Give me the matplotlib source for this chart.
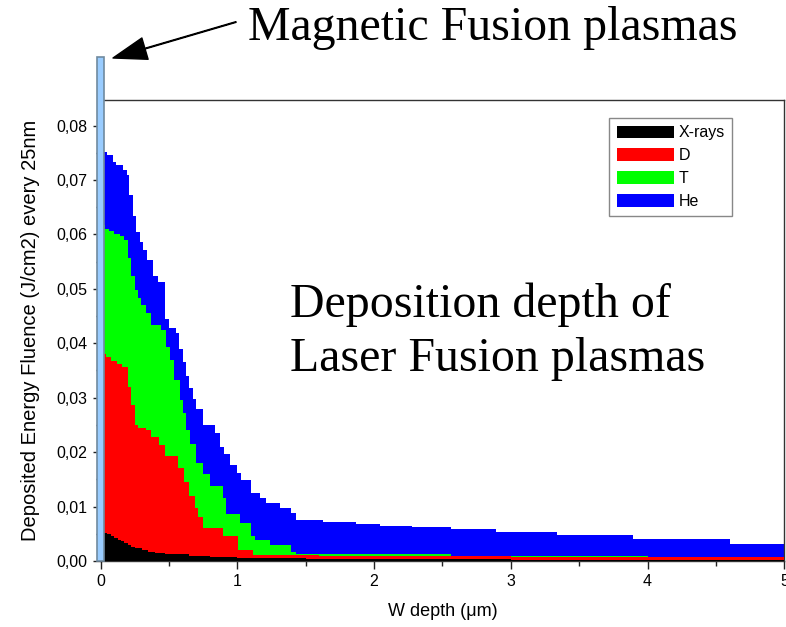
import matplotlib
matplotlib.use("Agg")
import matplotlib.pyplot as plt
from matplotlib.ticker import MultipleLocator

# stacked (cumulative) tops of each layer
# W depth in um, fluence in J/cm2 per 25 nm
he_edges = [0.000, 0.050, 0.090, 0.115, 0.165, 0.190, 0.210, 0.240, 0.260, 0.285,
            0.310, 0.340, 0.385, 0.420, 0.475, 0.500, 0.550, 0.575, 0.600, 0.625,
            0.650, 0.675, 0.700, 0.750, 0.840, 0.870, 0.900, 0.945, 0.995, 1.030,
            1.100, 1.165, 1.210, 1.310, 1.395, 1.430, 1.625, 1.870, 2.040, 2.280,
            2.560, 2.890, 3.340, 3.890, 4.600, 5.000]
he_top = [0.0752, 0.0746, 0.0734, 0.0728, 0.0719, 0.0710, 0.0673, 0.0633, 0.0605,
          0.0587, 0.0572, 0.0553, 0.0523, 0.0513, 0.0445, 0.0428, 0.0418, 0.0390,
          0.0366, 0.0340, 0.0318, 0.0298, 0.0280, 0.0250, 0.0235, 0.0210, 0.0197,
          0.0176, 0.0162, 0.0149, 0.0125, 0.0116, 0.0107, 0.0097, 0.0088, 0.0075,
          0.0071, 0.0068, 0.0065, 0.0063, 0.0059, 0.0053, 0.0048, 0.0040, 0.0031]

t_edges = [0.000, 0.030, 0.060, 0.100, 0.140, 0.170, 0.200, 0.225, 0.250, 0.274,
           0.298, 0.334, 0.371, 0.444, 0.480, 0.505, 0.540, 0.578, 0.602, 0.626,
           0.651, 0.700, 0.750, 0.800, 0.895, 0.920, 1.020, 1.100, 1.130, 1.240,
           1.395, 1.430, 1.625, 2.560, 4.000, 5.000]
t_top = [0.0618, 0.0610, 0.0606, 0.0601, 0.0597, 0.0590, 0.0557, 0.0523, 0.0498,
         0.0483, 0.0470, 0.0456, 0.0434, 0.0425, 0.0394, 0.0370, 0.0333, 0.0296,
         0.0272, 0.0241, 0.0215, 0.0180, 0.0160, 0.0137, 0.0115, 0.0087, 0.0070,
         0.0045, 0.0039, 0.0030, 0.0017, 0.0013, 0.0012, 0.0010, 0.0008]

d_edges = [0.000, 0.040, 0.080, 0.120, 0.160, 0.200, 0.225, 0.250, 0.275, 0.330,
           0.370, 0.430, 0.470, 0.565, 0.610, 0.650, 0.690, 0.710, 0.750, 0.895,
           1.005, 1.115, 1.600, 3.000, 4.000, 5.000]
d_top = [0.0380, 0.0375, 0.0368, 0.0362, 0.0356, 0.0320, 0.0287, 0.0250, 0.0245,
         0.0240, 0.0228, 0.0213, 0.0192, 0.0170, 0.0145, 0.0120, 0.0098, 0.0081,
         0.0060, 0.0045, 0.0020, 0.0011, 0.0009, 0.0008, 0.0007]

x_edges = [0.000, 0.025, 0.050, 0.075, 0.100, 0.125, 0.150, 0.175, 0.200, 0.225,
           0.250, 0.300, 0.350, 0.400, 0.470, 0.550, 0.650, 0.800, 1.000, 1.200,
           1.500, 2.000, 3.000, 5.000]
x_top = [0.0055, 0.0052, 0.0049, 0.0046, 0.0042, 0.0039, 0.0036, 0.0033, 0.0029,
         0.0026, 0.0024, 0.0021, 0.0017, 0.0015, 0.0013, 0.0012, 0.0010, 0.0008,
         0.0006, 0.0005, 0.0004, 0.0003, 0.0002]

mfe_height = 0.0926  # magnetic fusion bar

y_ticks = [0.00, 0.01, 0.02, 0.03, 0.04, 0.05, 0.06, 0.07, 0.08]
y_labels = ['0,00', '0,01', '0,02', '0,03', '0,04', '0,05', '0,06', '0,07', '0,08']
x_ticks = [0, 1, 2, 3, 4, 5]
x_labels = ['0', '1', '2', '3', '4', '5']

plt.rcParams['font.family'] = ['Liberation Sans', 'DejaVu Sans']

fig = plt.figure(figsize=(7.86, 6.27), dpi=100)
ax = fig.add_axes([0.1279, 0.1053, 0.8700, 0.7352])

# paint from the top layer down so each covers the one above it
h_he = ax.stairs(he_top, he_edges, fill=True, color='#0000ff', label='He', zorder=2)
h_t = ax.stairs(t_top, t_edges, fill=True, color='#00ff00', label='T', zorder=3)
h_d = ax.stairs(d_top, d_edges, fill=True, color='#ff0000', label='D', zorder=4)
h_x = ax.stairs(x_top, x_edges, fill=True, color='#000000', label='X-rays', zorder=5)

ax.bar([0.0], [mfe_height], width=0.055, color='#99ccff', edgecolor='#6f8aa0',
       linewidth=1.2, clip_on=False, zorder=10)

ax.set_xlim(0, 5)
ax.set_ylim(0, 0.0847)
ax.set_xticks(x_ticks)
ax.set_xticklabels(x_labels)
ax.set_yticks(y_ticks)
ax.set_yticklabels(y_labels)
ax.xaxis.set_minor_locator(MultipleLocator(0.5))
ax.yaxis.set_minor_locator(MultipleLocator(0.005))
ax.tick_params(which='both', direction='out', top=False, right=False,
               labelsize=11.5, width=1, color='#222222')
ax.tick_params(which='major', length=6)
ax.tick_params(which='minor', length=3.5)
for s in ax.spines.values():
    s.set_color('#333333')
    s.set_linewidth(1)

ax.set_xlabel('W depth (\u03bcm)', fontsize=13, labelpad=10)
ax.set_ylabel('Deposited Energy Fluence (J/cm2) every 25nm', fontsize=14.5, labelpad=12)

leg = ax.legend(handles=[h_x, h_d, h_t, h_he], loc='upper right',
                bbox_to_anchor=(0.924, 0.961), borderaxespad=0, fontsize=11.5,
                fancybox=False, edgecolor='#888888', framealpha=1,
                handlelength=3.6, handleheight=0.8, labelspacing=0.5,
                handletextpad=0.3, borderpad=0.45)
leg.get_frame().set_linewidth(1)

fig.text(248 / 786, 1 - 28 / 627, 'Magnetic Fusion plasmas', fontsize=34.5,
         family='Liberation Serif', ha='left', va='center')
fig.text(290 / 786, 1 - 332 / 627, 'Deposition depth of\nLaser Fusion plasmas',
         fontsize=34.5, family='Liberation Serif', ha='left', va='center',
         linespacing=1.3)

ax.annotate('', xy=(113 / 786, 1 - 58 / 627), xycoords='figure fraction',
            xytext=(236 / 786, 1 - 22 / 627), textcoords='figure fraction',
            arrowprops=dict(facecolor='black', edgecolor='black', width=0.5,
                            headwidth=16, headlength=24, shrink=0))

fig.savefig('out.png', dpi=100)
